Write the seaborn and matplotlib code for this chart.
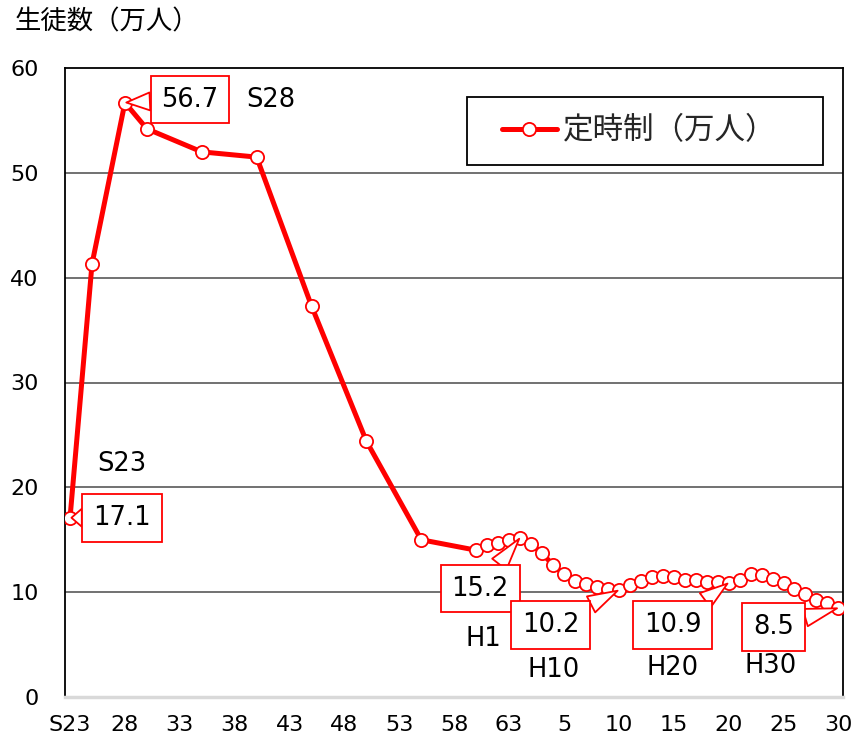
import matplotlib
matplotlib.use("Agg")
import matplotlib.pyplot as plt
from matplotlib.patches import Rectangle
import seaborn as sns
import pandas as pd

# ---- data ----
years = [1948, 1950, 1953, 1955, 1960, 1965, 1970, 1975, 1980, 1985,
         1986, 1987, 1988, 1989, 1990, 1991, 1992, 1993, 1994, 1995,
         1996, 1997, 1998, 1999, 2000, 2001, 2002, 2003, 2004, 2005,
         2006, 2007, 2008, 2009, 2010, 2011, 2012, 2013, 2014, 2015,
         2016, 2017, 2018]
students = [17.1, 41.3, 56.7, 54.2, 52.0, 51.5, 37.3, 24.4, 15.0, 14.0,
            14.5, 14.7, 15.0, 15.2, 14.6, 13.7, 12.6, 11.7, 11.1, 10.8,
            10.5, 10.3, 10.2, 10.7, 11.1, 11.4, 11.5, 11.4, 11.2, 11.2,
            11.0, 11.0, 10.9, 11.2, 11.7, 11.6, 11.3, 10.9, 10.3, 9.8,
            9.3, 9.0, 8.5]
tick_years = [1948, 1953, 1958, 1963, 1968, 1973, 1978, 1983, 1988,
              1993, 1998, 2003, 2008, 2013, 2018]
tick_labels = ["S23", "28", "33", "38", "43", "48", "53", "58", "63",
               "5", "10", "15", "20", "25", "30"]
y_ticks = [0, 10, 20, 30, 40, 50, 60]
series_label = "定時制（万人）"
y_title = "生徒数（万人）"

# callouts: (year, value text, era label)
callout_years = [1953, 1948, 1989, 1998, 2008, 2018]
callout_texts = ["56.7", "17.1", "15.2", "10.2", "10.9", "8.5"]
era_texts = ["S28", "S23", "H1", "H10", "H20", "H30"]

df = pd.DataFrame({"year": years, "students": students})

sns.set_theme(style="white")
plt.rcParams["font.family"] = ["DejaVu Sans", "Noto Sans CJK JP"]

fig = plt.figure(figsize=(8.54, 7.45), dpi=100)
W, H = 854, 745
ax = fig.add_axes([65 / W, 48 / H, 778 / W, 629 / H])

sns.lineplot(data=df, x="year", y="students", ax=ax, color="#FF0000",
             linewidth=3.6, marker="o", markersize=9.5,
             markerfacecolor="white", markeredgecolor="#FF0000",
             markeredgewidth=1.3, label=series_label, zorder=3)

ax.set_xlim(1947.54, 2018.42)
ax.set_ylim(0, 60)
ax.set_yticks(y_ticks)
ax.set_yticklabels([str(v) for v in y_ticks])
ax.set_xticks(tick_years)
ax.set_xticklabels(tick_labels)
ax.tick_params(axis="both", length=0, labelsize=16, colors="black")
ax.tick_params(axis="y", pad=19)
ax.tick_params(axis="x", pad=13)
ax.set_xlabel("")
ax.set_ylabel("")

for v in y_ticks[1:-1]:
    ax.axhline(v, color="#595959", lw=1.2, zorder=1)

for side in ["left", "top", "right"]:
    ax.spines[side].set_color("black")
    ax.spines[side].set_linewidth(1.3)
    ax.spines[side].set_visible(True)
ax.spines["bottom"].set_color("#d9d9d9")
ax.spines["bottom"].set_linewidth(2.5)
ax.spines["bottom"].set_visible(True)

val_of = dict(zip(years, students))
box_offsets = [(65, 3), (52, 0), (-40, -51), (-68, -35), (-56, -42), (-65, -19)]
era_offsets = [(146, 3), (52, 54), (-37, -101), (-65, -80), (-56, -85), (-68, -58)]

for yr, txt, era, bo, eo in zip(callout_years, callout_texts, era_texts,
                                box_offsets, era_offsets):
    yv = val_of[yr]
    ax.annotate(txt, xy=(yr, yv), xytext=bo, textcoords="offset pixels",
                ha="center", va="center", fontsize=18.5, color="black",
                bbox=dict(boxstyle="square,pad=0.42", fc="white",
                          ec="#FF0000", lw=1.3),
                arrowprops=dict(arrowstyle="wedge,tail_width=0.7,shrink_factor=0.5",
                                fc="white", ec="#FF0000", lw=1.3,
                                shrinkA=0, shrinkB=1),
                zorder=5, annotation_clip=False)
    ax.annotate(era, xy=(yr, yv), xytext=eo, textcoords="offset pixels",
                ha="center", va="center", fontsize=18.5, color="black",
                zorder=5, annotation_clip=False)

# legend frame drawn as a rectangle, legend content placed inside
frame = Rectangle(((467 - 65) / 778, (697 - 165) / 629), 356 / 778, 68 / 629,
                  transform=ax.transAxes, fc="white", ec="black", lw=1.3,
                  zorder=6)
ax.add_patch(frame)
leg = ax.legend(loc="center", bbox_to_anchor=((639 - 65) / 778, (697 - 131) / 629),
                fontsize=22, frameon=False, borderpad=0,
                handlelength=1.8, handletextpad=0.2, borderaxespad=0)
leg.set_zorder(7)

fig.text(15 / W, 1 - 22 / H, y_title, fontsize=19, ha="left", va="center",
         color="black")

fig.savefig("out.png", dpi=100)
